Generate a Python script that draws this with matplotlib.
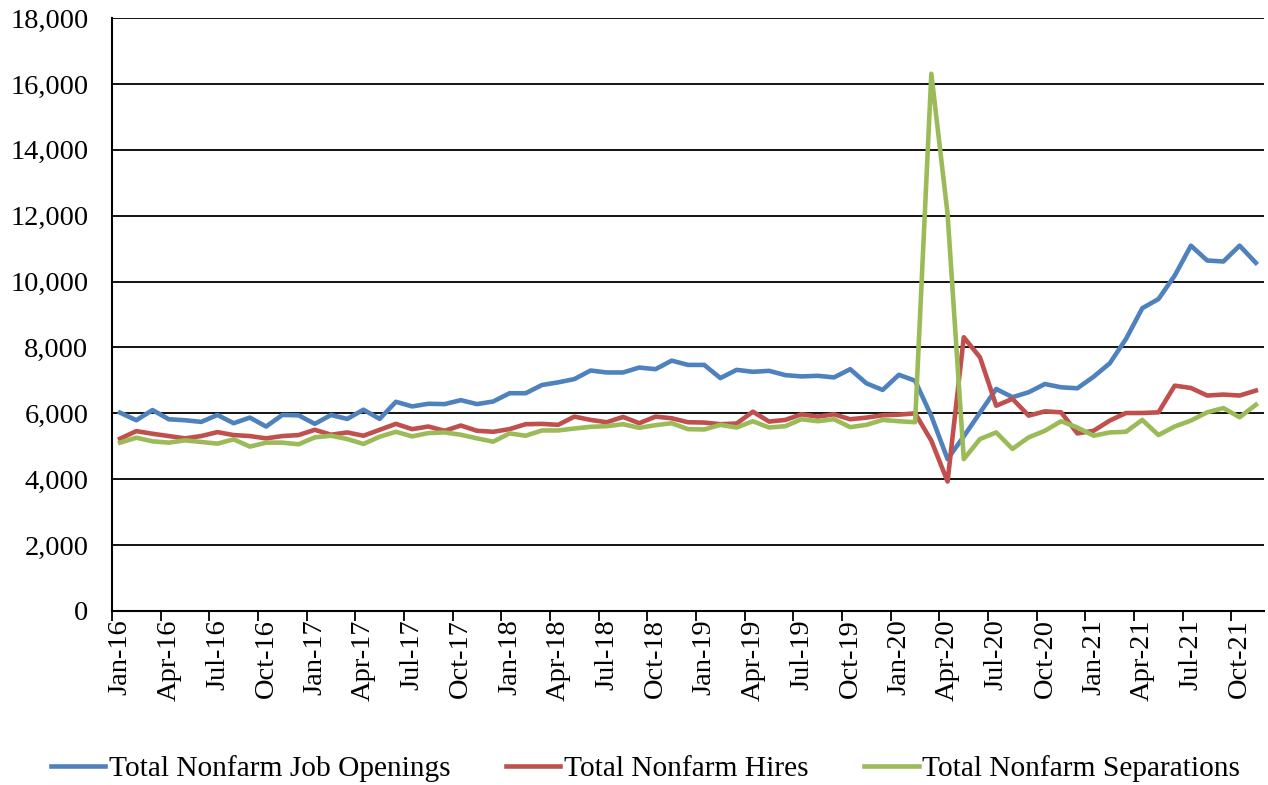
import numpy as np
import matplotlib.pyplot as plt
from matplotlib.ticker import FuncFormatter, MultipleLocator

plt.rcParams['font.family'] = ['Liberation Serif', 'DejaVu Serif']

# monthly JOLTS levels (thousands), Jan-16 .. Nov-21
openings = [6020, 5790, 6100, 5820, 5790, 5740, 5950, 5700, 5870, 5600, 5950, 5940,
            5680, 5950, 5830, 6110, 5830, 6350, 6210, 6290, 6280, 6400, 6280, 6360,
            6610, 6610, 6860, 6940, 7040, 7300, 7240, 7240, 7390, 7340, 7600, 7470,
            7470, 7070, 7320, 7260, 7290, 7160, 7120, 7140, 7090, 7340, 6910, 6710,
            7170, 6990, 5920, 4610, 5300, 6020, 6740, 6490, 6640, 6890, 6790, 6760,
            7110, 7520, 8260, 9190, 9470, 10180, 11090, 10640, 10610, 11090, 10570]
hires = [5230, 5460, 5380, 5310, 5240, 5310, 5430, 5340, 5310, 5240, 5310, 5340,
         5500, 5350, 5420, 5320, 5500, 5680, 5520, 5600, 5470, 5630, 5470, 5440,
         5520, 5670, 5680, 5650, 5900, 5800, 5730, 5890, 5700, 5900, 5850, 5730,
         5720, 5670, 5690, 6050, 5750, 5800, 5970, 5900, 5970, 5820, 5870, 5940,
         5960, 6000, 5170, 3930, 8310, 7700, 6230, 6440, 5930, 6060, 6030, 5390,
         5470, 5780, 6010, 6010, 6030, 6840, 6770, 6540, 6570, 6540, 6690]
separations = [5110, 5260, 5150, 5110, 5180, 5130, 5080, 5210, 4990, 5110, 5110, 5060,
               5270, 5320, 5220, 5070, 5290, 5440, 5300, 5400, 5420, 5350, 5240, 5140,
               5390, 5320, 5480, 5480, 5540, 5590, 5610, 5670, 5560, 5640, 5700, 5520,
               5510, 5650, 5570, 5760, 5570, 5610, 5820, 5760, 5820, 5580, 5650, 5800,
               5760, 5730, 16310, 12060, 4610, 5220, 5420, 4920, 5270, 5470, 5760, 5570,
               5320, 5420, 5440, 5800, 5340, 5600, 5780, 6030, 6160, 5880, 6260]

quarter_labels = ['Jan-16', 'Apr-16', 'Jul-16', 'Oct-16', 'Jan-17', 'Apr-17', 'Jul-17', 'Oct-17',
                  'Jan-18', 'Apr-18', 'Jul-18', 'Oct-18', 'Jan-19', 'Apr-19', 'Jul-19', 'Oct-19',
                  'Jan-20', 'Apr-20', 'Jul-20', 'Oct-20', 'Jan-21', 'Apr-21', 'Jul-21', 'Oct-21']

x = np.arange(len(openings))

fig = plt.figure(figsize=(12.68, 7.85), dpi=100)
ax = fig.add_axes([0.0883, 0.2217, 0.9085, 0.7553])

ax.plot(x, openings, color='#4F81BD', lw=3.3, label='Total Nonfarm Job Openings')
ax.plot(x, hires, color='#C0504D', lw=3.3, label='Total Nonfarm Hires')
ax.plot(x, separations, color='#9BBB59', lw=3.3, label='Total Nonfarm Separations')

ax.set_xlim(-0.5, len(x) - 0.5)
ax.set_ylim(0, 18000)
ax.yaxis.set_major_locator(MultipleLocator(2000))
ax.yaxis.set_major_formatter(FuncFormatter(lambda v, p: f'{int(v):,}'))
ax.grid(axis='y', color='black', lw=1.3)
ax.set_axisbelow(True)

# labels on the first month of each quarter, tick marks on the boundaries
ax.set_xticks(np.arange(0, len(x), 3))
ax.set_xticklabels(quarter_labels, rotation=90)
ax.set_xticks(np.arange(-0.5, len(x) - 1, 3), minor=True)
ax.tick_params(axis='x', which='major', length=0, pad=6, labelsize=20.5)
ax.tick_params(axis='x', which='minor', length=7, width=1.3, direction='out')
ax.tick_params(axis='y', length=0, pad=17, labelsize=20.5)

for s in ['top', 'right']:
    ax.spines[s].set_visible(False)
for s in ['left', 'bottom']:
    ax.spines[s].set_linewidth(1.5)
    ax.spines[s].set_color('black')

fig.legend(loc='center', bbox_to_anchor=(0.509, 1 - 769 / 785), ncol=3, frameon=False,
           fontsize=21.2, handlelength=1.85, handletextpad=0.12, columnspacing=1.9)

fig.savefig('out.png', dpi=100)
